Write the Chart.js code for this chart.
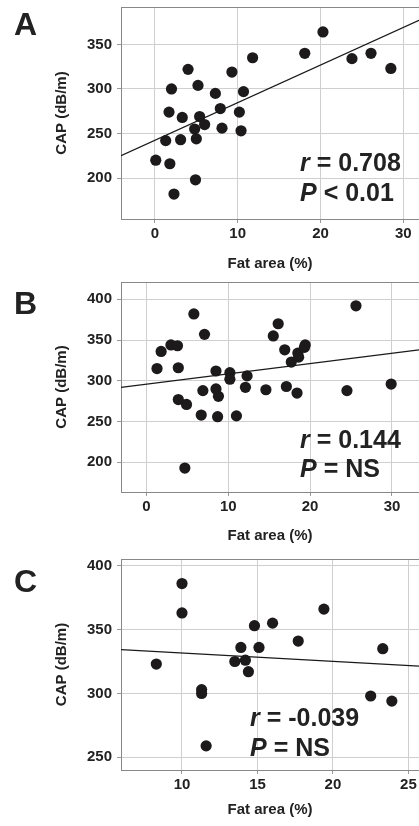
<!DOCTYPE html>
<html>
<head>
<meta charset="utf-8">
<script src="https://cdn.jsdelivr.net/npm/chart.js@4.4.1/dist/chart.umd.min.js"></script>
<style>
  body { margin: 0; background: #fff; width: 419px; height: 826px; position: relative; overflow: hidden;
         font-family: "Liberation Sans", Arial, sans-serif; color: #222; }
  .panel { position: absolute; left: 0; width: 419px; }
  .letter { position: absolute; font-weight: bold; font-size: 32px; line-height: 1; }
  .stat { position: absolute; font-weight: bold; font-size: 25px; line-height: 1; white-space: pre; }
</style>
</head>
<body>
<div class="panel" style="top:0;height:275px"><canvas id="chartA" width="419" height="275"></canvas></div>
<div class="panel" style="top:275px;height:275px"><canvas id="chartB" width="419" height="275"></canvas></div>
<div class="panel" style="top:550px;height:276px"><canvas id="chartC" width="419" height="276"></canvas></div>

<div class="letter" style="left:14px;top:8px">A</div>
<div class="letter" style="left:14px;top:287px">B</div>
<div class="letter" style="left:14px;top:565px">C</div>

<div class="stat" style="left:300px;top:150px"><i>r</i> = 0.708</div>
<div class="stat" style="left:300px;top:180px"><i>P</i> &lt; 0.01</div>
<div class="stat" style="left:300px;top:427px"><i>r</i> = 0.144</div>
<div class="stat" style="left:300px;top:456px"><i>P</i> = NS</div>
<div class="stat" style="left:250px;top:705px"><i>r</i> = -0.039</div>
<div class="stat" style="left:250px;top:735px"><i>P</i> = NS</div>

<script>
// panel A
const fatA = [0.1, 1.8, 2.3, 1.3, 1.7, 2.0, 3.1, 3.3, 4.0, 5.2, 4.8, 5.0, 4.9, 5.4, 6.0, 7.3, 7.9, 8.1, 9.3, 10.2, 10.4, 10.7, 11.8, 18.1, 20.3, 23.8, 26.1, 28.5];
const capA = [220, 216, 182, 242, 274, 300, 243, 268, 322, 304, 255, 244, 198, 269, 260, 295, 278, 256, 319, 274, 253, 297, 335, 340, 364, 334, 340, 323];
const fitXA = [-4.1, 31.9];
const fitYA = [225, 377];
const xTicksA = [0, 10, 20, 30];
const yTicksA = [200, 250, 300, 350];

// panel B
const fatB = [1.3, 1.8, 3.0, 3.8, 3.9, 3.9, 4.9, 4.7, 5.8, 7.1, 6.9, 6.7, 8.5, 8.5, 8.8, 8.7, 10.2, 10.2, 11.0, 12.3, 12.1, 14.6, 15.5, 16.1, 16.9, 17.1, 17.7, 18.4, 18.5, 18.6, 19.3, 19.4, 24.5, 25.6, 29.9];
const capB = [315, 336, 344, 343, 316, 277, 271, 193, 382, 357, 288, 258, 312, 290, 281, 256, 310, 302, 257, 306, 292, 289, 355, 370, 338, 293, 323, 285, 334, 329, 341, 344, 288, 392, 296];
const fitXB = [-3.1, 33.3];
const fitYB = [292, 338];
const xTicksB = [0, 10, 20, 30];
const yTicksB = [200, 250, 300, 350, 400];

// panel C
const fatC = [8.3, 10.0, 10.0, 11.3, 11.3, 11.6, 13.5, 13.9, 14.2, 14.4, 14.8, 15.1, 16.0, 17.7, 19.4, 22.5, 23.3, 23.9];
const capC = [323, 386, 363, 303, 300, 259, 325, 336, 326, 317, 353, 336, 355, 341, 366, 298, 335, 294];
const fitXC = [5.96, 25.7];
const fitYC = [334.3, 321.3];
const xTicksC = [10, 15, 20, 25];
const yTicksC = [250, 300, 350, 400];

const font = "'Liberation Sans', Arial, sans-serif";

// top edge of the plot frame
const framePlugin = {
    id: 'frame',
    afterDraw(chart) {
        const { ctx, chartArea } = chart;
        ctx.save();
        ctx.strokeStyle = '#888';
        ctx.lineWidth = 1;
        ctx.beginPath();
        ctx.moveTo(chartArea.left, chartArea.top + 0.5);
        ctx.lineTo(chartArea.right, chartArea.top + 0.5);
        ctx.stroke();
        ctx.restore();
    }
};

function pairs(xs, ys) {
    return xs.map((x, i) => ({ x: x, y: ys[i] }));
}

function makePanel(id, fat, cap, fitX, fitY, xTicks, yTicks, opt) {
    const ctx = document.getElementById(id).getContext("2d");
    return new Chart(ctx, {
        type: 'scatter',
        data: {
            datasets: [
                {
                    type: 'line',
                    data: pairs(fitX, fitY),
                    borderColor: '#1a1a1a',
                    borderWidth: 1.3,
                    pointRadius: 0,
                    fill: false
                },
                {
                    data: pairs(fat, cap),
                    backgroundColor: '#1c1a1a',
                    borderWidth: 0,
                    pointRadius: 5.6,
                    pointHoverRadius: 5.6
                }
            ]
        },
        options: {
            responsive: false,
            animation: false,
            events: [],
            layout: { autoPadding: false, padding: { top: opt.top, left: 0, right: 0, bottom: 0 } },
            plugins: { legend: { display: false }, tooltip: { enabled: false } },
            scales: {
                x: {
                    type: 'linear',
                    min: opt.xMin,
                    max: opt.xMax,
                    afterBuildTicks: (s) => { s.ticks = xTicks.map(v => ({ value: v })); },
                    afterFit: (s) => {
                        s.height = opt.xHeight;
                        s.paddingLeft = 0; s.paddingRight = 0;
                    },
                    grid: { color: '#cfcfcf', lineWidth: 1, tickLength: 4, tickColor: '#999' },
                    border: { color: '#888', width: 1 },
                    ticks: { padding: 2, color: '#222', font: { family: font, size: 15, weight: 'bold' } },
                    title: {
                        display: true,
                        text: 'Fat area (%)',
                        color: '#222',
                        font: { family: font, size: 15, weight: 'bold' },
                        padding: { top: 0, bottom: opt.titlePad }
                    }
                },
                y: {
                    type: 'linear',
                    min: opt.yMin,
                    max: opt.yMax,
                    afterBuildTicks: (s) => { s.ticks = yTicks.map(v => ({ value: v })); },
                    afterFit: (s) => {
                        s.width = 121;
                        s.paddingTop = 0; s.paddingBottom = 0;
                    },
                    grid: { color: '#cfcfcf', lineWidth: 1, tickLength: 4, tickColor: '#999' },
                    border: { color: '#888', width: 1 },
                    ticks: { padding: 5, color: '#222', font: { family: font, size: 15, weight: 'bold' } },
                    title: {
                        display: true,
                        text: 'CAP (dB/m)',
                        color: '#222',
                        font: { family: font, size: 15, weight: 'bold' },
                        padding: { top: 53, bottom: 0 }
                    }
                }
            }
        },
        plugins: [framePlugin]
    });
}

makePanel("chartA", fatA, capA, fitXA, fitYA, xTicksA, yTicksA,
    { top: 7, xHeight: 56, titlePad: 2, xMin: -4.1, xMax: 31.9, yMin: 154, yMax: 392 });
makePanel("chartB", fatB, capB, fitXB, fitYB, xTicksB, yTicksB,
    { top: 7, xHeight: 58, titlePad: 5, xMin: -3.1, xMax: 33.3, yMin: 163.6, yMax: 421.2 });
makePanel("chartC", fatC, capC, fitXC, fitYC, xTicksC, yTicksC,
    { top: 9, xHeight: 56, titlePad: 7, xMin: 5.96, xMax: 25.7, yMin: 240.1, yMax: 405.2 });
</script>
</body>
</html>
